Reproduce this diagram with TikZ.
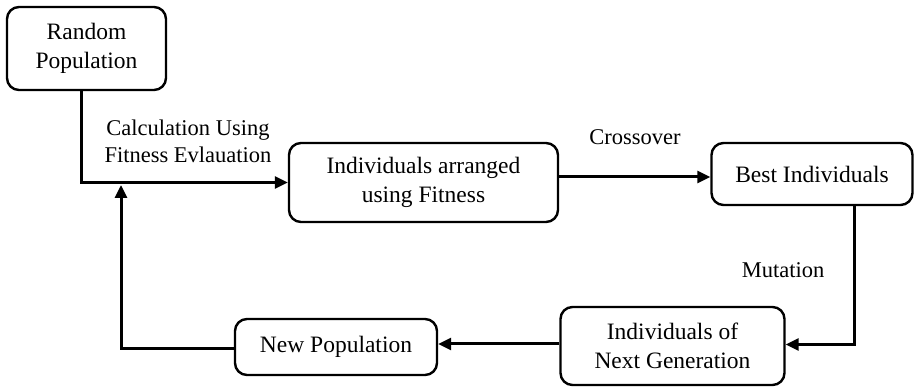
\documentclass[tikz,border=0pt]{standalone}
\usepackage{fontspec}
\setmainfont{Liberation Serif}
\usepackage{tikz}
\usetikzlibrary{positioning, arrows.meta}

\begin{document}
\begin{tikzpicture}[x=1pt, y=-1pt,
  box/.style={draw, line width=2.4pt, rounded corners=12pt, align=center,
    inner sep=0pt, font=\fontsize{23.5}{29}\selectfont},
  flow/.style={line width=3pt, -{Triangle[length=13pt,width=12pt]}},
  lbl/.style={align=center, font=\fontsize{22.5}{27}\selectfont}]
\useasboundingbox (0,0) rectangle (916,387);

% Boxes
\node[box, minimum width=159pt, minimum height=83pt] (RP) at (86.5,48.5) {Random\\Population};
\node[box, minimum width=269pt, minimum height=79pt] (IA) at (423.5,182.5) {Individuals arranged\\using Fitness};
\node[box, minimum width=201pt, minimum height=62pt] (BI) at (812,174) {Best Individuals};
\node[box, minimum width=224pt, minimum height=78pt] (NG) at (672.5,346) {Individuals of\\Next Generation};
\node[box, minimum width=202pt, minimum height=56pt] (NP) at (336,347) {New Population};
\coordinate (loop) at (121,185);

% Connectors
\draw[flow] ([xshift=-5.5pt]RP.south) |- (IA.west);
\draw[flow] ([yshift=5.5pt]IA.east) -- ([yshift=5.5pt]IA.east -| BI.west);
\draw[flow] ([xshift=42pt]BI.south) |- ([yshift=1.5pt]NG.east);
\draw[flow] ([yshift=2pt]NG.west) -- ([yshift=2pt]NG.west -| NP.east);
\draw[flow] ([yshift=-2pt]NP.west) -| (loop);

% Labels
\node[lbl] (calc) at (188,141) {Calculation Using\\Fitness Evlauation};
\node[lbl] (cross) at (635,137) {Crossover};
\node[lbl] (mut) at (783,270) {Mutation};
\end{tikzpicture}
\end{document}
